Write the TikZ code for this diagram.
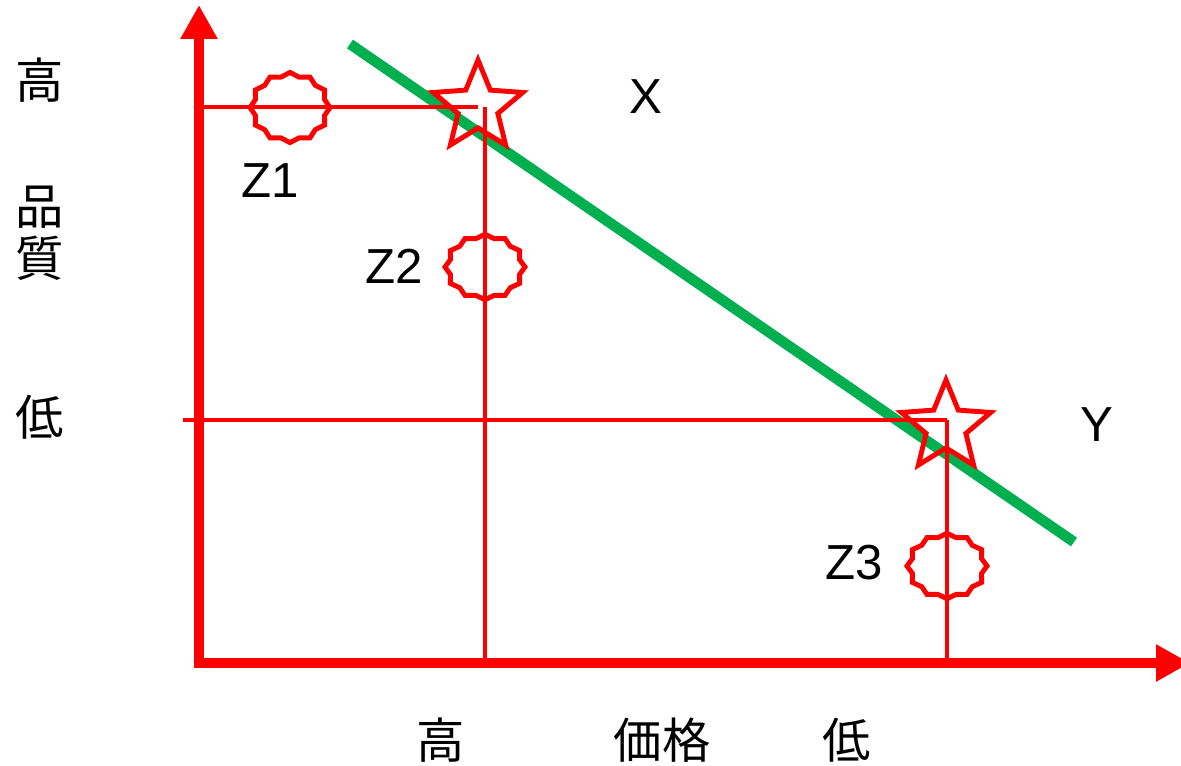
\documentclass[tikz,border=0pt]{standalone}
\usepackage{fontspec}
\setmainfont{Liberation Sans}
\newfontfamily\jpfont{Noto Sans CJK JP}
\usetikzlibrary{arrows.meta, shapes.geometric}
\definecolor{chartRed}{HTML}{FF0000}
\definecolor{trendGreen}{HTML}{00B050}

\begin{document}
\begin{tikzpicture}[x=0.02cm, y=-0.02cm,
    axis/.style={chartRed, line width=6.2pt, line join=miter,
      {Triangle[length=0.68cm, width=0.7cm]}-{Triangle[length=0.68cm, width=0.7cm]}},
    guide/.style={chartRed, line width=2.4pt},
    trend/.style={trendGreen, line width=6pt},
    pointstar/.style={star, star points=5, star point ratio=2.25,
      minimum size=1.88cm, inner sep=0pt, draw=chartRed, line width=2.8pt},
    seal/.style={star, star points=12, star point ratio=1.12,
      minimum size=1.6cm, inner sep=0pt, draw=chartRed, line width=2.8pt, yscale=0.82},
    lbl/.style={font=\fontsize{28pt}{30pt}\selectfont},
    jplbl/.style={font=\jpfont\fontsize{27.5pt}{29.6pt}\selectfont, align=center}]
  \useasboundingbox (0,0) rectangle (1181,765);
  % coordinates
  \coordinate (O) at (199,663);
  \coordinate (ytop) at (199,5);
  \coordinate (xend) at (1190,663);
  \coordinate (hiQ) at (199,107);
  \coordinate (loQ) at (183,420);
  \coordinate (hiP) at (485,663);
  \coordinate (loP) at (947,663);
  \coordinate (g1) at (350,44);
  \coordinate (g2) at (1074,542);
  % trend line
  \draw[trend] (g1) -- (g2);
  % axes
  \draw[axis] (ytop) -- (O) -- (xend);
  % points
  \node[pointstar] (X) at (478,107) {};
  \node[pointstar] (Y) at (946,427) {};
  \draw[guide] (hiQ) -- (hiQ -| X.center);
  \draw[guide] (hiP) -- (hiP |- hiQ);
  \draw[guide] (loQ) -- (loQ -| loP);
  \draw[guide] (loP) -- (loP |- loQ);
  \node[seal, yscale=1.07] (Z1) at (290,107.5) {};
  \node[seal] (Z2) at (485,267) {};
  \node[seal] (Z3) at (947,566) {};
  % labels
  \node[lbl] (lX) at (646,97) {X};
  \node[lbl] (lY) at (1097,425) {Y};
  \node[lbl] (lZ1) at (270,181) {Z1};
  \node[lbl] (lZ2) at (394,266) {Z2};
  \node[lbl] (lZ3) at (854,563) {Z3};
  \node[jplbl] (qHigh) at (40,80) {高};
  \node[jplbl] (qName) at (40,233) {品\\質};
  \node[jplbl] (qLow) at (40,417) {低};
  \node[jplbl] (pHigh) at (441,740) {高};
  \node[jplbl] (pName) at (662,740) {価格};
  \node[jplbl] (pLow) at (847,740) {低};
\end{tikzpicture}
\end{document}
